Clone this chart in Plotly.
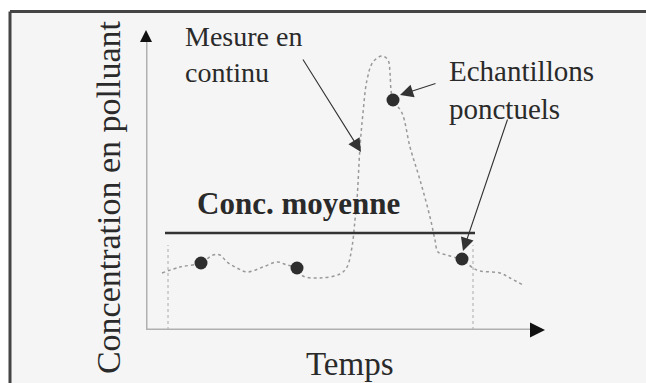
import plotly.graph_objects as go

temps = [16, 34, 55, 67, 74, 81, 91, 101, 117, 131, 141, 151, 157, 174, 194, 201,
         206, 209, 211, 214, 217, 221, 227, 236, 242, 244, 245, 247, 256, 264, 274,
         284, 289, 292, 301, 311, 316, 327, 334, 354, 364, 377]
conc = [57, 63, 67, 75, 75, 68, 62, 58, 63, 68, 65, 62, 54, 52, 56, 63,
        83, 110, 130, 183, 217, 250, 268, 274, 270, 257, 240, 230, 217, 183, 150,
        113, 90, 78, 75, 72, 71, 62, 59, 57, 52, 45]

# spot samples
ech_t = [55, 151, 247, 316]
ech_c = [67, 62, 230, 71]

# mean concentration over the sampling period
moy_t = [19, 329]
moy_c = [97, 97]
bornes_t = [22, 327]
borne_haut = 85

font = "Liberation Serif, Times New Roman, serif"
ink = "#2a2a2a"

fig = go.Figure()

for bt in bornes_t:
    fig.add_trace(go.Scatter(x=[bt, bt], y=[0, borne_haut], mode="lines",
                             line=dict(color="#aaaaaa", width=1, dash="dot"),
                             hoverinfo="skip"))

fig.add_trace(go.Scatter(x=temps, y=conc, mode="lines", line_shape="spline",
                         line=dict(color="#999999", width=1.5, dash="dot")))
fig.add_trace(go.Scatter(x=moy_t, y=moy_c, mode="lines",
                         line=dict(color="#333333", width=2.5)))
fig.add_trace(go.Scatter(x=ech_t, y=ech_c, mode="markers",
                         marker=dict(color="#2e2e2e", size=13)))

# axes drawn by hand with arrows
fig.add_shape(type="line", x0=0, y0=0, x1=396, y1=0, line=dict(color="#b0b0b0", width=3))
fig.add_shape(type="line", x0=0, y0=0, x1=0, y1=296, line=dict(color="#b0b0b0", width=3))
fig.add_annotation(x=399, y=0, ax=-10, ay=0, text="", showarrow=True, arrowhead=2,
                   arrowsize=1.5, arrowwidth=2, arrowcolor="#111111")
fig.add_annotation(x=0, y=300, ax=0, ay=10, text="", showarrow=True, arrowhead=2,
                   arrowsize=1.2, arrowwidth=2, arrowcolor="#111111")

# frame: white margin top/left, dark border, right and bottom edges outside the picture
fig.add_shape(type="rect", xref="paper", yref="paper", x0=-0.5, x1=1.6, y0=1.062, y1=1.2,
              line_width=0, fillcolor="white", layer="below")
fig.add_shape(type="rect", xref="paper", yref="paper", x0=-0.5, x1=-0.34, y0=-0.4, y1=1.2,
              line_width=0, fillcolor="white", layer="below")
fig.add_shape(type="line", xref="paper", yref="paper", x0=-0.34, x1=1.6, y0=1.062, y1=1.062,
              line=dict(color="#444444", width=3))
fig.add_shape(type="line", xref="paper", yref="paper", x0=-0.34, x1=-0.34, y0=-0.4, y1=1.062,
              line=dict(color="#444444", width=3))

# pointers
for tip, tail in [((215, 178), (156, 272)), ((254, 235), (291, 247)), ((317, 79), (362, 212))]:
    fig.add_annotation(x=tip[0], y=tip[1], ax=tail[0], ay=tail[1], axref="x", ayref="y",
                       text="", showarrow=True, arrowhead=2, arrowsize=2.4,
                       arrowwidth=1.1, arrowcolor="#333333")

fig.add_annotation(x=37, y=276, text="Mesure en<br>continu", showarrow=False,
                   xanchor="left", yanchor="middle", align="left",
                   font=dict(family=font, size=28, color=ink))
fig.add_annotation(x=301, y=240, text="Echantillons<br>ponctuels", showarrow=False,
                   xanchor="left", yanchor="middle", align="left",
                   font=dict(family=font, size=29, color=ink))
fig.add_annotation(x=49, y=127, text="<b>Conc. moyenne</b>", showarrow=False,
                   xanchor="left", yanchor="middle",
                   font=dict(family=font, size=31, color=ink))
fig.add_annotation(x=0.51, y=-0.113, xref="paper", yref="paper", text="Temps",
                   showarrow=False, xanchor="center", yanchor="middle",
                   font=dict(family=font, size=33, color=ink))
fig.add_annotation(x=-0.095, y=0.443, xref="paper", yref="paper",
                   text="Concentration en polluant", showarrow=False,
                   textangle=-90, xanchor="center", yanchor="middle",
                   font=dict(family=font, size=34, color=ink))

fig.update_layout(
    width=646, height=383,
    margin=dict(l=146, r=100, t=30, b=53),
    paper_bgcolor="#f5f5f5", plot_bgcolor="#f5f5f5",
    showlegend=False,
    xaxis=dict(range=[0, 400], visible=False, fixedrange=True),
    yaxis=dict(range=[0, 300], visible=False, fixedrange=True),
)

fig.write_html("out.html", config={"displayModeBar": False},
               post_script="document.body.style.margin='0';"
                           "document.body.style.overflow='hidden';"
                           "document.documentElement.style.overflow='hidden';")
